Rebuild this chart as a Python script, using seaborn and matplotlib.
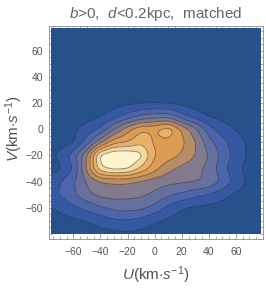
import numpy as np
import matplotlib
matplotlib.use("Agg")
import matplotlib.pyplot as plt
from matplotlib.ticker import MultipleLocator
import seaborn as sns

# density level, on a 10 km/s grid
u_grid = np.arange(-80, 81, 10)
v_grid = np.arange(80, -81, -10)
row_80 = [0] * 17
row_70 = [0] * 17
row_60 = [0] * 17
row_50 = [0] * 17
row_40 = [0] * 17
row_30 = [0] * 17
row_20 = [0, 0, 0, 0, 0, 0.1, 0.25, 0.35, 0.35, 0.3, 0.2, 0.1, 0, 0, 0, 0, 0]
row_10 = [0, 0, 0, 0.1, 0.4, 1.0, 1.8, 2.6, 3.0, 3.0, 1.8, 0.9, 0.4, 0.1, 0, 0, 0]
row_0 = [0, 0, 0.3, 0.9, 1.6, 3.4, 5.2, 6.4, 6.4, 7.3, 5.4, 3.8, 1.9, 1.0, 0.4, 0, 0]
row_m10 = [0, 0.1, 0.3, 1.9, 4.2, 6.2, 6.5, 7.3, 6.3, 6.2, 5.8, 4.6, 2.9, 1.8, 1.0, 0.3, 0]
row_m20 = [0.2, 0.7, 2.0, 4.5, 9.0, 9.7, 9.6, 8.9, 6.5, 6.0, 5.4, 4.5, 3.5, 2.2, 1.1, 0.3, 0]
row_m30 = [0, 0.3, 1.5, 4.7, 8.4, 9.0, 8.8, 7.3, 5.9, 4.8, 4.2, 3.8, 3.2, 1.8, 0.8, 0.1, 0]
row_m40 = [0.8, 1.4, 2.4, 3.6, 4.4, 4.6, 4.6, 4.3, 4.0, 3.8, 3.7, 3.6, 3.4, 2.3, 1.2, 0.2, 0]
row_m50 = [0.9, 1.6, 2.3, 3.3, 3.8, 3.9, 3.8, 3.7, 3.3, 2.7, 2.3, 1.8, 1.4, 0.8, 0.3, 0, 0]
row_m60 = [0.4, 0.7, 1.3, 1.8, 2.4, 2.8, 2.9, 2.8, 2.2, 1.2, 0.5, 0.3, 0.2, 0.1, 0, 0, 0]
row_m70 = [0, 0.1, 0.3, 0.5, 0.9, 1.3, 1.4, 1.1, 0.6, 0.3, 0.1, 0, 0, 0, 0, 0, 0]
row_m80 = [0, 0, 0, 0, 0.1, 0.2, 0.3, 0.2, 0, 0, 0, 0, 0, 0, 0, 0, 0]

band_colors = ["#26518a", "#3459a2", "#4a65ab", "#66709e", "#817b8d",
               "#b78c66", "#dc9c52", "#e9b066", "#f6d89a", "#fdf3cc"]
xticks = [-60, -40, -20, 0, 20, 40, 60]
yticks = [-60, -40, -20, 0, 20, 40, 60]

density = np.array([row_80, row_70, row_60, row_50, row_40, row_30, row_20, row_10,
                    row_0, row_m10, row_m20, row_m30, row_m40, row_m50, row_m60,
                    row_m70, row_m80], dtype=float)[::-1]
v_up = v_grid[::-1]

# finer mesh + light smoothing so the contours come out rounded
uf = np.arange(-80, 80.5, 1.0)
vf = np.arange(-80, 80.5, 1.0)
tmp = np.array([np.interp(uf, u_grid, r) for r in density])
fine = np.array([np.interp(vf, v_up, c) for c in tmp.T]).T
k = np.exp(-0.5 * (np.arange(-7, 8) / 2.2) ** 2)
k /= k.sum()
pad = np.pad(fine, 7, mode="edge")
pad = np.apply_along_axis(lambda r: np.convolve(r, k, mode="same"), 1, pad)
pad = np.apply_along_axis(lambda c: np.convolve(c, k, mode="same"), 0, pad)
fine = pad[7:-7, 7:-7]

mu = (uf >= -76) & (uf <= 78)
mv = (vf >= -81) & (vf <= 77)
U, V = np.meshgrid(uf[mu], vf[mv])
Z = fine[np.ix_(mv, mu)]

sns.set_style("white")
plt.rcParams["font.family"] = ["Liberation Sans", "DejaVu Sans"]
plt.rcParams["mathtext.fontset"] = "custom"
plt.rcParams["mathtext.rm"] = "Liberation Sans"
plt.rcParams["mathtext.it"] = "Liberation Sans:italic"

fig = plt.figure(figsize=(2.66, 2.88), dpi=100)
ax = fig.add_axes([49 / 266, 49 / 288, 214 / 266, 213 / 288])

levels = [-10] + [i + 0.5 for i in range(9)] + [50]
ax.contourf(U, V, Z, levels=levels, colors=sns.color_palette(band_colors))
ax.contour(U, V, Z, levels=levels[1:-1], colors="#2a2a3a", linewidths=0.6, alpha=0.6)

ax.set_xlim(-78, 80)
ax.set_ylim(-84, 79)
ax.set_xticks(xticks)
ax.set_yticks(yticks)
ax.xaxis.set_minor_locator(MultipleLocator(5))
ax.yaxis.set_minor_locator(MultipleLocator(5))
ax.tick_params(which="both", direction="in", top=True, right=True, bottom=True, left=True,
               color="#999999", width=0.6, labelsize=7.5, labelcolor="#555555")
ax.tick_params(axis="x", pad=6)
ax.tick_params(axis="y", pad=4)
ax.tick_params(which="major", length=4)
ax.tick_params(which="minor", length=2)
for s in ax.spines.values():
    s.set_color("#999999")
    s.set_linewidth(0.7)

ax.set_xlabel(r"$U$(km$\cdot s^{-1}$)", fontsize=11, color="#555555")
ax.set_ylabel(r"$V$(km$\cdot s^{-1}$)", fontsize=11, color="#555555")
ax.xaxis.set_label_coords(0.5, -0.12)
ax.yaxis.set_label_coords(-0.11, 0.52)
ax.set_title(r"$b$>0,  $d$<0.2kpc,  matched", fontsize=11, color="#666666", pad=6)

fig.savefig("out.png", dpi=100)
